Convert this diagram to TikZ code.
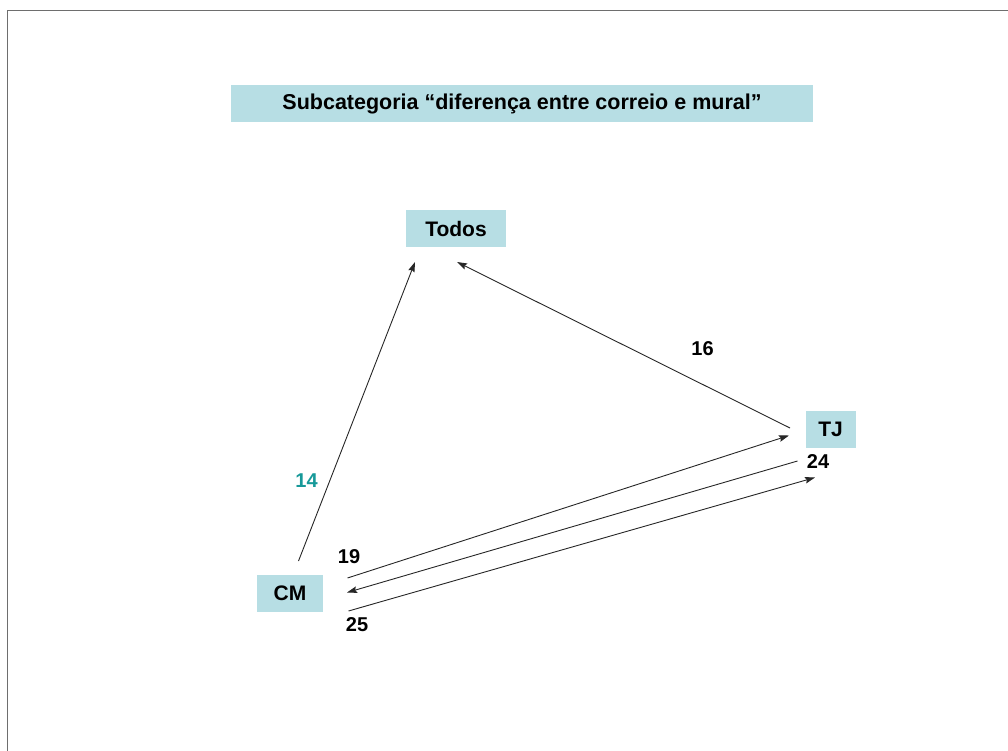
\documentclass[tikz,border=0pt]{standalone}
\usepackage{fontspec}
\setmainfont{Liberation Sans}
\usetikzlibrary{arrows.meta}
\definecolor{boxfill}{RGB}{183,222,228}
\definecolor{framegray}{RGB}{110,110,110}
\definecolor{tealnum}{RGB}{23,153,153}
\tikzset{
  labelbox/.style={fill=boxfill, inner sep=0pt, minimum height=37pt,
    font=\fontsize{21}{24}\selectfont\bfseries},
  countlabel/.style={inner sep=0pt, font=\fontsize{20}{24}\selectfont\bfseries},
  link/.style={line width=0.9pt, draw=black!85,
    -{Stealth[length=10pt, width=6.5pt, inset=1.5pt]}}
}
\begin{document}
\begin{tikzpicture}[x=1pt, y=-1pt]
  \useasboundingbox (0,0) rectangle (1008,751);
  % open frame: top and left edges
  \draw[framegray, line width=1.6pt] (7.5,751) -- (7.5,10.5) -- (1008,10.5);

  % title and category boxes
  \node[labelbox, minimum width=582pt, font=\fontsize{21.5}{24}\selectfont\bfseries] (title) at (522,103.5)
    {Subcategoria “diferença entre correio e mural”};
  \node[labelbox, minimum width=100pt] (todos) at (456,228.5) {Todos};
  \node[labelbox, minimum width=50pt] (tj) at (830.5,429.5) {TJ};
  \node[labelbox, minimum width=66pt] (cm) at (290,593.5) {CM};

  % connector end points beside the boxes
  \coordinate (cm-up)    at (298.5,561);
  \coordinate (todos-l)  at (415,262);
  \coordinate (tj-up)    at (790,428);
  \coordinate (todos-r)  at (457,262);
  \coordinate (cm-a)     at (347.5,578);
  \coordinate (tj-a)     at (789,435.5);
  \coordinate (tj-b)     at (797.5,461);
  \coordinate (cm-b)     at (347,592.5);
  \coordinate (cm-c)     at (348.5,611);
  \coordinate (tj-c)     at (815,477.5);

  % connectors
  \draw[link] (cm-up) -- (todos-l);
  \draw[link] (tj-up) -- (todos-r);
  \draw[link] (cm-a) -- (tj-a);
  \draw[link] (tj-b) -- (cm-b);
  \draw[link] (cm-c) -- (tj-c);

  % counts
  \node[countlabel, text=tealnum] (n14) at (306.5,481) {14};
  \node[countlabel] (n16) at (702.5,348.5) {16};
  \node[countlabel] (n19) at (349,557) {19};
  \node[countlabel] (n24) at (818,462) {24};
  \node[countlabel] (n25) at (357,624.5) {25};
\end{tikzpicture}
\end{document}
